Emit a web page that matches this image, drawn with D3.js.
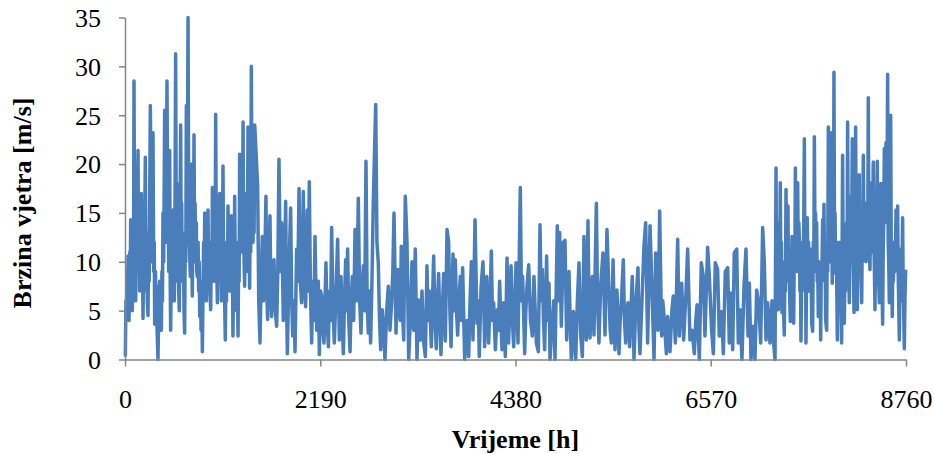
<!DOCTYPE html>
<html>
<head>
<meta charset="utf-8">
<script src="https://cdn.jsdelivr.net/npm/d3@7/dist/d3.min.js"></script>
<style>
  html, body { margin: 0; padding: 0; background: #fff; }
  svg { display: block; }
  .tick text { font-family: "Liberation Serif", "Times New Roman", serif; font-size: 26px; fill: #000; }
  .title { font-family: "Liberation Serif", "Times New Roman", serif; font-size: 26px; font-weight: bold; fill: #000; }
</style>
</head>
<body>
<svg id="chart" width="934" height="454"></svg>
<script>
// Hourly wind speed over one year: [hour of year, speed in m/s]
const windSpeed = [
  [4,0.3],[10,6],[15,4.2],[24,9],[28,5],[34,10.6],[40,6],[45,4],[54,11],[58,7],[64,14.3],[72,8],[76,12],[82,5],[90,13],[95,8],
  [101,28.5],[108,10],[114,16],[120,6],[128,14],[133,9],[140,17],[146,21.4],[152,10],[158,14],[165,7],[172,12],[177,9],[183,17],
  [190,8],[196,11],[202,4.2],[210,12],[216,7],[222,15],[228,20.7],[236,9],[242,13],[250,6],[258,4.5],[265,12],[271,8],[277,16],
  [284,26],[299,10],[306,16],[314,23.2],[322,9],[328,12],[333,3.6],[342,9],[347,5],[352,7.5],[360,3],[370,0],[380,6],[389,8],
  [396,4],[408,3],[414,9],[420,6],[426,15],[434,10],[445,25.5],[452,14],[460,12],[471,28.5],[480,12],[485,16],[490,9],[496,15],
  [501,21.4],[507,8],[512,3],[520,10],[526,6],[532,12],[538,15.3],[545,9],[553,6],[560,14],[568,31.3],[575,13],[582,18],[589,8],
  [595,12],[602,7],[609,5],[616,13],[624,24],[630,12],[636,16],[641,9],[647,8],[655,12],[662,5],[669,2.7],[676,13],[682,10],
  [688,26],[694,14],[700,20],[707,35],[714,16],[722,12],[733,8.5],[744,20],[750,10],[755,6.5],[762,14],[767,10],[774,23],[780,13],
  [786,16],[793,10],[800,14],[805,9],[811,8.5],[820,12],[826,7],[832,10],[838,4.4],[847,8],[853,3],[860,6],[868,0.8],[876,8],
  [882,12],[888,7],[894,15],[900,9],[906,13],[912,6],[918,11],[924,8],[931,15.3],[938,9],[944,12],[952,7],[961,5.1],[968,11],
  [974,8],[980,17.6],[986,10],[992,14],[998,8],[1005,14],[1011,10],[1017,25.1],[1024,12],[1030,9],[1036,5.8],[1043,12],[1050,8],
  [1056,13],[1062,17],[1068,9],[1074,12],[1081,6],[1087,13],[1093,10],[1099,19.8],[1106,9],[1112,12],[1118,6],[1125,2],[1132,9],
  [1138,6],[1144,12],[1150,8],[1155,15.7],[1162,9],[1168,12],[1174,7],[1181,11],[1187,8],[1193,14.7],[1199,7],[1205,9],[1211,2.4],
  [1218,10],[1224,7],[1230,16.7],[1238,8],[1245,12],[1252,5],[1260,8],[1268,2.4],[1274,10],[1280,8],[1286,21],[1292,12],[1298,16],
  [1305,11],[1312,17],[1318,12],[1324,24.3],[1330,13],[1336,10],[1342,7.5],[1350,14],[1356,10],[1362,17],[1368,9],[1374,14],
  [1380,23.8],[1386,11],[1392,14],[1398,7.3],[1404,15],[1410,11],[1417,30],[1424,15],[1430,18],[1436,12],[1442,17],[1448,13],[1455,24],
  [1488,17.7],[1500,6],[1514,1.7],[1527,8],[1540,12.6],[1552,6],[1563,7.8],[1581,16.7],[1590,7],[1600,4.1],[1613,9],[1626,14.7],
  [1635,8],[1645,4.4],[1658,9],[1671,10.2],[1686,5],[1701,3.4],[1714,9],[1727,20.5],[1742,9],[1757,14],[1776,4],[1789,9],[1802,16.2],
  [1812,6],[1821,0.6],[1839,9],[1858,15.5],[1870,6],[1881,2.4],[1894,6],[1907,0.8],[1925,11.3],[1938,8],[1952,17.5],[1966,8],
  [1981,5.8],[2000,17.2],[2013,8],[2026,5.4],[2045,15.3],[2056,7],[2067,18.2],[2080,7],[2094,1.7],[2106,8],[2118,4],[2131,12.6],
  [2150,3],[2168,8],[2180,0.5],[2193,7],[2206,6.5],[2219,3],[2232,1.7],[2254,9.9],[2268,4],[2281,1.3],[2293,7],[2305,4],[2318,13.5],
  [2333,5],[2348,1.7],[2367,7],[2385,12.3],[2404,2],[2423,8.5],[2436,4],[2449,0.6],[2462,6],[2475,10.2],[2486,5],[2497,11.3],
  [2510,4],[2524,0.8],[2537,6],[2550,8.5],[2565,4],[2580,13.3],[2598,6],[2617,16.5],[2632,6],[2647,2.7],[2660,7],[2673,9.6],
  [2688,5],[2703,20.3],[2716,6],[2729,2.7],[2742,7],[2755,1.7],[2770,8],[2785,16.2],[2812,26.1],[2826,12],[2841,9.9],[2855,4],
  [2868,1],[2886,5.1],[2901,3],[2916,0],[2935,5],[2954,7.5],[2972,3],[2991,5.8],[3004,9],[3017,15],[3040,2.7],[3050,6],[3062,9.2],
  [3075,5],[3088,4],[3099,11.6],[3112,5],[3126,2],[3144,16.7],[3163,12],[3182,0],[3200,4],[3219,10],[3238,3],[3256,11.3],[3275,0],
  [3294,6.1],[3313,2],[3331,7],[3350,1.7],[3369,0.3],[3387,9.6],[3400,4],[3413,7],[3436,1.3],[3449,6],[3462,10.6],[3477,4],
  [3492,1.1],[3505,6],[3518,8.8],[3531,4],[3544,0.5],[3559,5],[3574,8.8],[3593,1.9],[3612,13.3],[3630,12],[3644,5],[3657,1.3],
  [3679,10.8],[3692,5],[3705,10.2],[3718,5],[3731,2.5],[3746,6],[3761,8.5],[3774,4],[3787,9.4],[3810,0],[3836,4],[3855,0.3],
  [3870,6],[3885,10],[3903,2],[3926,14.3],[3948,3.7],[3961,6],[3974,0.3],[3993,7.3],[4015,10],[4034,1.3],[4057,8.5],[4079,1.7],
  [4094,6],[4109,11.1],[4122,4],[4135,5.8],[4154,1],[4176,5.1],[4189,3],[4202,8],[4216,4],[4229,1],[4247,5.8],[4266,0.3],
  [4285,10.4],[4303,1.7],[4316,6],[4330,9.6],[4345,4],[4360,1.3],[4373,6],[4386,9.9],[4408,1.7],[4434,17.6],[4447,6],[4460,8.5],
  [4483,0.6],[4496,5],[4509,7.5],[4528,9.7],[4548,4],[4569,2.4],[4587,8.5],[4614,1.7],[4636,0.8],[4655,13.8],[4668,6],[4681,9.2],
  [4694,4],[4707,1],[4729,10.6],[4742,4],[4756,7.8],[4767,0],[4793,3.9],[4808,6],[4823,0],[4849,13.7],[4862,6],[4875,13],
  [4894,3.4],[4916,12],[4935,12.2],[4954,2],[4967,6],[4980,9],[4993,4],[5006,0],[5029,4.9],[5042,2],[5055,0],[5073,5.8],[5092,9.9],
  [5111,2.5],[5130,0.3],[5148,12.6],[5161,5],[5174,2],[5193,14.2],[5205,5],[5216,2.2],[5229,6],[5242,8.5],[5260,2.5],[5287,16],
  [5300,6],[5316,1.7],[5335,7.5],[5361,10.9],[5384,2.5],[5406,13.3],[5429,6.5],[5442,3],[5455,1.7],[5474,10.2],[5496,1],[5518,7.1],
  [5541,0.6],[5554,4],[5567,5.8],[5589,10.2],[5602,4],[5616,1.7],[5629,5],[5642,5.8],[5660,1.3],[5675,5],[5690,8.5],[5709,0],
  [5728,5.4],[5754,9.4],[5765,3],[5776,0.6],[5803,7.1],[5821,11.6],[5840,14],[5862,1.7],[5889,13.7],[5915,5.8],[5934,0],[5952,10.9],
  [5978,3],[5997,15.2],[6019,2.4],[6032,6],[6046,4.4],[6072,0.6],[6087,4.4],[6113,0.8],[6135,5.1],[6150,6.5],[6173,1.7],[6199,12.3],
  [6217,2.4],[6244,7.8],[6266,2],[6292,6.8],[6311,11.3],[6337,2],[6360,3],[6386,0.6],[6402,4],[6416,5.6],[6442,0],[6464,9.9],
  [6487,8.5],[6505,2.4],[6535,11.5],[6554,8.5],[6580,3],[6599,0.6],[6621,9.9],[6647,9.2],[6666,2.4],[6692,4.9],[6711,0.6],[6733,9],
  [6760,9.4],[6778,1.7],[6797,6.8],[6816,1],[6834,10.9],[6861,11.3],[6879,1.7],[6898,5.1],[6920,0],[6943,7.5],[6965,11.3],[6988,2.4],
  [7003,7.8],[7021,0],[7048,3.4],[7066,0],[7085,7.1],[7107,5.8],[7130,1.7],[7152,13.5],[7171,9.9],[7190,2],[7208,5.8],[7234,1.7],
  [7257,6],[7272,2],[7291,0],[7302,19.6],[7308,8],[7314,14],[7320,9],[7328,5.1],[7336,12],[7342,8],[7350,18.1],[7356,9],[7362,12],
  [7369,4.8],[7376,10],[7382,6],[7395,2.5],[7402,10],[7408,7],[7414,17.4],[7420,10],[7428,13],[7436,15.7],[7442,8],[7450,11],
  [7456,6],[7463,3.9],[7470,9],[7475,7],[7481,12.6],[7488,8],[7494,10],[7500,3.7],[7507,11],[7513,9],[7519,19.6],[7526,11],
  [7532,14],[7538,9],[7545,18.1],[7552,10],[7558,14],[7564,12.3],[7570,7],[7576,9],[7582,1.9],[7590,9],[7595,7],[7601,12],
  [7608,9],[7614,15],[7620,22.6],[7626,9],[7632,12],[7638,1.7],[7645,9],[7653,14.5],[7660,8],[7667,12],[7675,7],[7683,11.3],
  [7690,7],[7696,9],[7702,3.7],[7713,2.9],[7720,12],[7726,9],[7732,22.8],[7740,11],[7746,15],[7752,9],[7758,14],[7764,8],
  [7770,10],[7776,4.4],[7784,10],[7790,7],[7796,9],[7803,2],[7810,10],[7816,8],[7825,14.3],[7832,9],[7840,15.9],[7846,9],
  [7852,11],[7859,4],[7870,3],[7876,11],[7882,9],[7889,23.8],[7896,12],[7902,16],[7908,10],[7915,23.2],[7922,11],[7928,14],
  [7933,7.8],[7940,15],[7946,11],[7952,29.4],[7958,12],[7964,15],[7971,8.8],[7978,12],[7984,7],[7990,2],[7996,9],[8002,7],
  [8008,12],[8015,8],[8022,11],[8030,6],[8038,1.7],[8049,20.9],[8055,10],[8061,13],[8068,3.7],[8075,9],[8081,7],[8087,10.2],
  [8093,14],[8099,10],[8105,24.3],[8112,12],[8118,9],[8124,5.8],[8130,12],[8139,16.7],[8145,10],[8151,14],[8158,22.6],[8164,11],
  [8170,9],[8177,4.8],[8183,13],[8189,10],[8195,23.8],[8201,12],[8207,10],[8214,5.1],[8220,13],[8226,10],[8236,18.9],[8242,11],
  [8248,14],[8255,9],[8263,5.8],[8269,12],[8275,10],[8281,20.9],[8288,13],[8294,16],[8300,12],[8306,16],[8312,10],[8319,11.3],
  [8325,15],[8331,12],[8337,26.8],[8343,13],[8350,11],[8356,9.2],[8362,14],[8368,11],[8375,18.1],[8381,12],[8387,15],[8393,20.2],
  [8400,12],[8406,9],[8412,5.1],[8419,12],[8425,9],[8432,14],[8438,20.3],[8444,11],[8450,9],[8461,5.8],[8467,12],[8473,10],
  [8479,18],[8485,10],[8491,8],[8498,3.6],[8504,11],[8510,14],[8517,21.6],[8523,14],[8530,17],[8536,22.2],[8542,15],[8548,18],
  [8554,29.2],[8560,12],[8566,10],[8573,5.8],[8580,14],[8588,25],[8594,12],[8600,9],[8606,4.4],[8612,10],[8618,8],[8629,12],
  [8635,9],[8641,11],[8648,15.3],[8654,10],[8660,12],[8666,15.7],[8672,9],[8678,6],[8685,2],[8692,8],[8698,6],[8704,11.3],
  [8710,8],[8716,10],[8722,14.5],[8728,8],[8734,5],[8741,1.1],[8748,6],[8756,9.2]
];

const xTicks = [0, 2190, 4380, 6570, 8760];
const yTicks = [0, 5, 10, 15, 20, 25, 30, 35];

const svg = d3.select("#chart");
const x = d3.scaleLinear().domain([0, 8760]).range([125, 906]);
const y = d3.scaleLinear().domain([0, 35]).range([359.5, 17.5]);

const axisColor = "#868686";

// wind speed line
svg.append("path")
  .datum(windSpeed)
  .attr("fill", "none")
  .attr("stroke", "#4a7ebb")
  .attr("stroke-width", 3.5)
  .attr("stroke-linejoin", "round")
  .attr("d", d3.line().x(d => x(d[0])).y(d => y(d[1])));

// y axis
const gy = svg.append("g")
  .attr("transform", `translate(${x(0)},0)`)
  .call(d3.axisLeft(y).tickValues(yTicks).tickSize(6).tickPadding(18).tickSizeOuter(0));
gy.select(".domain").attr("stroke", axisColor).attr("stroke-width", 1.5);
gy.selectAll(".tick line").attr("stroke", axisColor).attr("stroke-width", 1.5);
gy.selectAll(".tick text").attr("dy", "0.34em");

// x axis
const gx = svg.append("g")
  .attr("transform", `translate(0,${y(0)})`)
  .call(d3.axisBottom(x).tickValues(xTicks).tickFormat(d3.format("d")).tickSize(7).tickPadding(23).tickSizeOuter(0));
gx.select(".domain").attr("stroke", axisColor).attr("stroke-width", 1.5);
gx.selectAll(".tick line").attr("stroke", axisColor).attr("stroke-width", 1.5);

// axis titles
svg.append("text")
  .attr("class", "title")
  .attr("text-anchor", "middle")
  .attr("transform", "translate(31,203) rotate(-90)")
  .text("Brzina vjetra [m/s]");

svg.append("text")
  .attr("class", "title")
  .attr("text-anchor", "middle")
  .attr("x", (x(0) + x(8760)) / 2)
  .attr("y", 448)
  .text("Vrijeme [h]");
</script>
</body>
</html>
